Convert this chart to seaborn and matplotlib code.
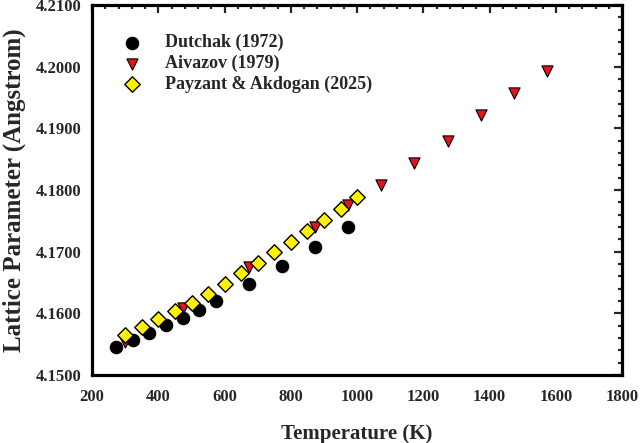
import matplotlib
matplotlib.use("Agg")
import matplotlib.pyplot as plt
import seaborn as sns
from matplotlib.ticker import MultipleLocator, FormatStrFormatter

sns.set_theme(style="white")
plt.rcParams['font.family'] = ['Liberation Serif', 'DejaVu Serif']
plt.rcParams['font.weight'] = 'bold'

dutchak_T = [273, 323, 373, 423, 473, 523, 573, 673, 773, 873, 973]
dutchak_a = [4.1545, 4.1557, 4.1568, 4.1581, 4.1592, 4.1605, 4.1620, 4.1648, 4.1677, 4.1708, 4.1740]

aivazov_T = [298, 473, 673, 873, 973, 1073, 1173, 1273, 1373, 1473, 1573]
aivazov_a = [4.1553, 4.1609, 4.1675, 4.1740, 4.1776, 4.1808, 4.1844, 4.1879, 4.1922, 4.1957, 4.1992]

payzant_T = [300, 350, 400, 450, 500, 550, 600, 650, 700, 750, 800, 850, 900, 950, 1000]
payzant_a = [4.1565, 4.1577, 4.1590, 4.1603, 4.1617, 4.1632, 4.1648, 4.1665, 4.1682, 4.1699, 4.1716, 4.1734, 4.1751, 4.1769, 4.1788]

labels = ["Dutchak (1972)", "Aivazov (1979)", "Payzant & Akdogan (2025)"]

fig = plt.figure(figsize=(6.4, 4.43), dpi=100)
ax = fig.add_axes([0.144, 0.1535, 0.828, 0.8355])

sns.scatterplot(x=dutchak_T, y=dutchak_a, ax=ax, marker='o', s=80, color='black',
                edgecolor='black', linewidth=0.8, label=labels[0], zorder=3)
sns.scatterplot(x=aivazov_T, y=aivazov_a, ax=ax, marker='v', s=65, color='#e3141c',
                edgecolor='black', linewidth=0.8, label=labels[1], zorder=4)
sns.scatterplot(x=payzant_T, y=payzant_a, ax=ax, marker='D', s=62, color='#fff200',
                edgecolor='black', linewidth=1.0, label=labels[2], zorder=5)

ax.set_xlim(200, 1800)
ax.set_ylim(4.15, 4.21)
ax.xaxis.set_major_locator(MultipleLocator(200))
ax.xaxis.set_minor_locator(MultipleLocator(40))
ax.yaxis.set_major_locator(MultipleLocator(0.01))
ax.yaxis.set_minor_locator(MultipleLocator(0.002))
ax.yaxis.set_major_formatter(FormatStrFormatter('%.4f'))

ax.tick_params(which='both', direction='in', top=True, right=True, width=1.6,
               labelsize=12)
ax.tick_params(axis='x', which='major', pad=10)
ax.tick_params(axis='y', which='major', pad=7.5)
ax.tick_params(which='major', length=5.5)
ax.tick_params(which='minor', length=3)
for lab in ax.get_xticklabels() + ax.get_yticklabels():
    lab.set_fontweight('bold')
for sp in ax.spines.values():
    sp.set_linewidth(2.3)
    sp.set_color('black')

ax.set_xlabel("Temperature (K)", fontsize=15, fontweight='bold', labelpad=14)
ax.set_ylabel("Lattice Parameter (Angstrom)", fontsize=18, fontweight='bold', labelpad=7)

leg = ax.legend(loc='upper left', bbox_to_anchor=(0.028, 0.9405), borderaxespad=0,
                frameon=False, handletextpad=0.8, labelspacing=0.2,
                prop={'weight': 'bold', 'size': 13})

fig.savefig("out.png", dpi=100)
